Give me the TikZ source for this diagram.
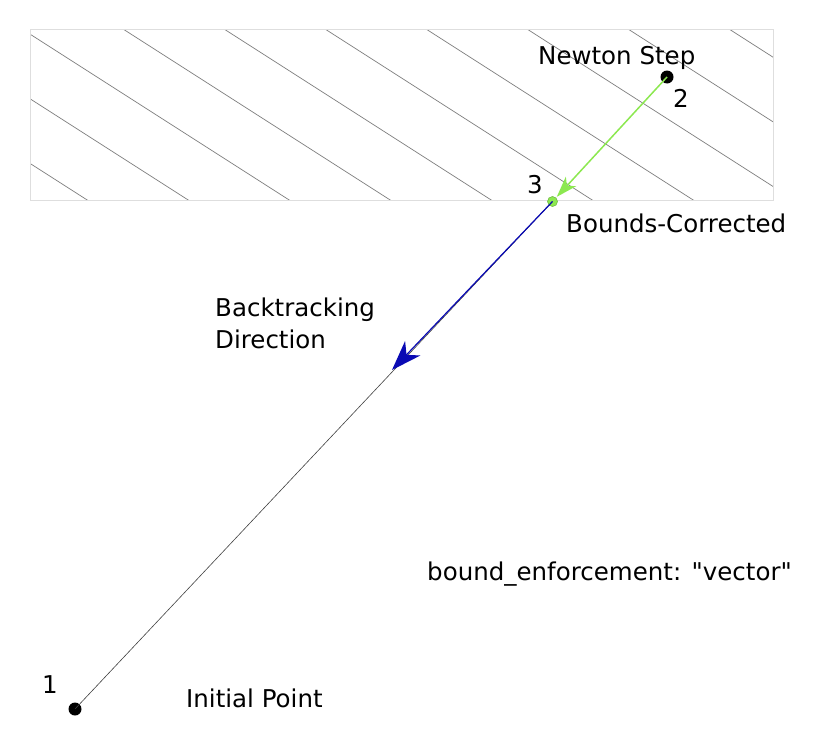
\documentclass[tikz,border=0pt]{standalone}
\usepackage{fontspec}
\setmainfont{DejaVu Sans}[Ligatures=TeXOff]
\usetikzlibrary{arrows.meta}
\definecolor{stepgreen}{RGB}{140,232,80}
\definecolor{btblue}{RGB}{10,10,180}
\definecolor{hatchgray}{RGB}{125,125,125}
\definecolor{boxgray}{RGB}{222,222,222}
\tikzset{
  lbl/.style={anchor=base west, inner sep=0pt, font=\fontsize{24.5}{32}\selectfont},
  blackdot/.style={circle, fill=black, inner sep=0pt, minimum size=13pt},
  greendot/.style={circle, fill=stepgreen, draw=stepgreen!80!black, line width=0.6pt, inner sep=0pt, minimum size=10pt},
  hatchline/.style={hatchgray, line width=0.7pt},
}
\begin{document}
\begin{tikzpicture}[x=1pt,y=-1pt]
\useasboundingbox (0,0) rectangle (822,744);
% infeasible region
\begin{scope}
  \clip (30,29) rectangle (773,200);
  \foreach \k in {-3,...,8} {
    \draw[hatchline] ({22+101*\k},29) -- ({22+101*\k+320},{29+0.64*320});
  }
\end{scope}
\draw[boxgray, line width=0.8pt] (30,29) rectangle (773,200);
% points
\node[blackdot] (p1) at (75,709) {};
\node[blackdot] (p2) at (667,77) {};
\node[greendot] (p3) at (552.5,201.5) {};
\coordinate (bt) at (392,370);
% connectors
\draw[black!75, line width=0.6pt] (p1.center) -- (p3.center);
\draw[btblue, line width=1.2pt, -{Stealth[length=30pt, width=21pt, inset=9pt]}] (p3.center) -- (bt);
\draw[stepgreen, line width=1.5pt, shorten >=1pt, -{Stealth[length=21pt, width=14pt, inset=6pt]}] (p2.center) -- (p3);
% labels
\node[lbl] (t2) at (673,107) {2};
\node[lbl] (t3) at (527,193) {3};
\node[lbl] (t1) at (42,693) {1};
\node[lbl] (newton) at (538,64) {Newton Step};
\node[lbl] (bc) at (566,232) {Bounds-Corrected};
\node[lbl, align=left] (btd) at (215,348) {Backtracking\\Direction};
\node[lbl] (ip) at (186,707) {Initial Point};
\node[lbl] (be) at (427,580) {bound\_enforcement: "vector"};
\end{tikzpicture}
\end{document}
